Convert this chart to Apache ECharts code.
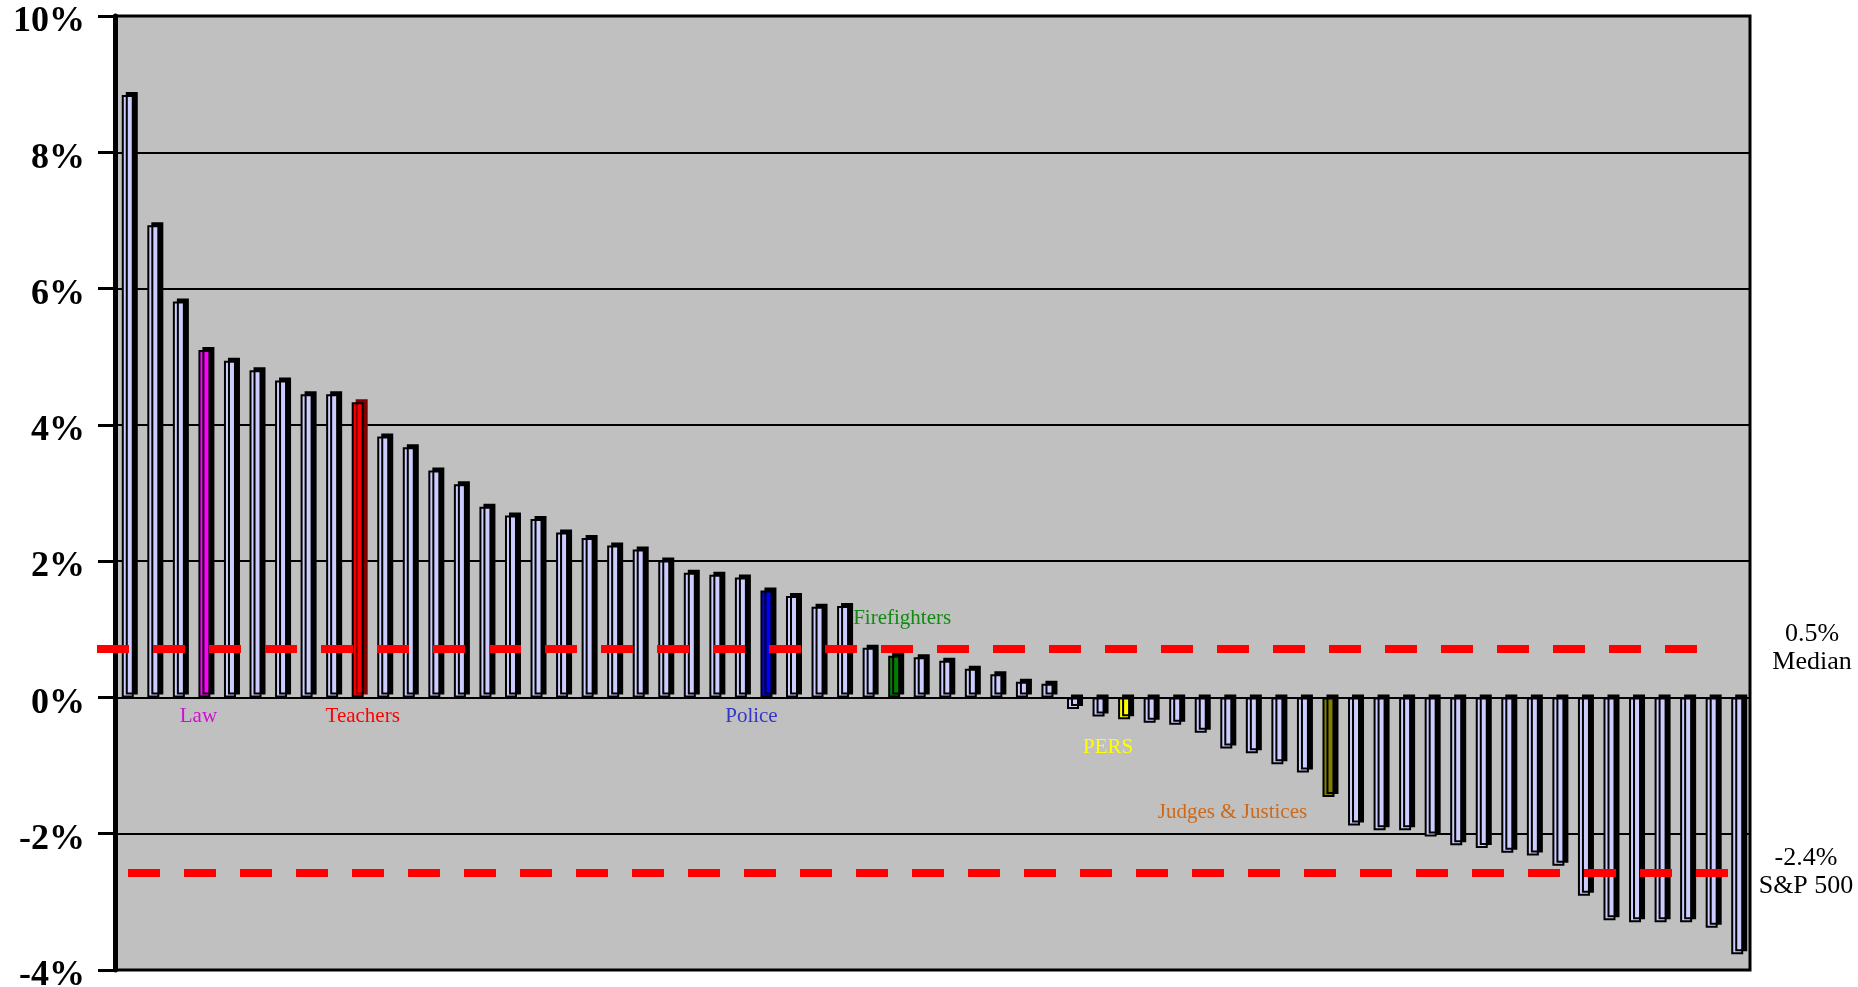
<!DOCTYPE html>
<html>
<head>
<meta charset="utf-8">
<script src="https://cdn.jsdelivr.net/npm/echarts@6/dist/echarts.min.js"></script>
<style>
html,body{margin:0;padding:0;background:#ffffff;}
#chart{width:1858px;height:987px;}
</style>
</head>
<body>
<div id="chart"></div>
<script>
// ---- data ----
const categories = [
  'Plan 1','Plan 2','Plan 3','Law','Plan 5','Plan 6','Plan 7','Plan 8','Plan 9','Teachers',
  'Plan 11','Plan 12','Plan 13','Plan 14','Plan 15','Plan 16','Plan 17','Plan 18','Plan 19','Plan 20',
  'Plan 21','Plan 22','Plan 23','Plan 24','Plan 25','Police','Plan 27','Plan 28','Plan 29','Plan 30',
  'Firefighters','Plan 32','Plan 33','Plan 34','Plan 35','Plan 36','Plan 37','Plan 38','Plan 39','PERS',
  'Plan 41','Plan 42','Plan 43','Plan 44','Plan 45','Plan 46','Plan 47','Judges & Justices','Plan 49','Plan 50',
  'Plan 51','Plan 52','Plan 53','Plan 54','Plan 55','Plan 56','Plan 57','Plan 58','Plan 59','Plan 60',
  'Plan 61','Plan 62','Plan 63','Plan 64'
];
const values = [
  8.84, 6.93, 5.81, 5.10, 4.94, 4.80, 4.65, 4.45, 4.45, 4.33,
  3.83, 3.67, 3.33, 3.13, 2.80, 2.67, 2.62, 2.42, 2.34, 2.23,
  2.17, 2.01, 1.83, 1.80, 1.76, 1.57, 1.49, 1.33, 1.34, 0.73,
  0.61, 0.59, 0.54, 0.42, 0.34, 0.23, 0.20, -0.17, -0.28, -0.32,
  -0.37, -0.40, -0.52, -0.75, -0.82, -0.98, -1.10, -1.46, -1.88, -1.95,
  -1.95, -2.04, -2.17, -2.21, -2.28, -2.32, -2.47, -2.91, -3.27, -3.30,
  -3.30, -3.30, -3.38, -3.77
];
const yTickValues = [-4, -2, 0, 2, 4, 6, 8, 10];
const refLineValues = [0.72, -2.57];
const refLineLabels = ['0.5%\nMedian', '-2.4%\nS&P 500'];
const highlightNames = ['Law', 'Teachers', 'Police', 'Firefighters', 'PERS', 'Judges & Justices'];

// ---- styles ----
const highlightBarColors = ['#FF00FF', '#FF0000', '#0000FF', '#008000', '#FFFF00', '#808000'];
const highlightSideColors = ['#000000', '#800000', '#000000', '#000000', '#000000', '#000000'];
const highlightTextColors = ['#D010D0', '#FF0000', '#3535C8', '#108A10', '#FFFF00', '#CC6A1A'];
const highlightLabelPlacement = [
  {position: 'bottom', distance: 9, offset: [-6, 0]},
  {position: 'bottom', distance: 9, offset: [5, 0]},
  {position: 'bottom', distance: 9, offset: [-15, 0]},
  {position: 'top', distance: 27, offset: [8, 0]},
  {position: 'bottom', distance: 18, offset: [-16, 0]},
  {position: 'bottom', distance: 5, offset: [-96, 0]}
];
const refLineX = [[97, 1697], [128, 1728]];
const refLabelDistance = [115, 78];
const refLabelPad = [[0, 0, 40, 0], [0, 0, 8, 0]];
const SERIF = '"Liberation Serif", "Times New Roman", serif';

const barData = values.map(function (v, i) {
  const h = highlightNames.indexOf(categories[i]);
  if (h < 0) return v;
  const p = highlightLabelPlacement[h];
  return {
    value: v,
    itemStyle: {color: highlightBarColors[h], shadowColor: highlightSideColors[h]},
    label: {
      show: true,
      formatter: categories[i],
      position: p.position,
      distance: p.distance,
      offset: p.offset,
      color: highlightTextColors[h],
      fontFamily: SERIF,
      fontSize: 21
    }
  };
});

const markLineData = refLineValues.map(function (v, k) {
  return [
    {
      yAxis: v,
      x: refLineX[k][0],
      label: {
        show: true,
        position: 'end',
        formatter: refLineLabels[k],
        distance: refLabelDistance[k],
        align: 'center',
        color: '#000',
        fontFamily: SERIF,
        fontSize: 26,
        lineHeight: 28,
        padding: refLabelPad[k]
      }
    },
    {yAxis: v, x: refLineX[k][1]}
  ];
});

const chart = echarts.init(document.getElementById('chart'), null, {renderer: 'canvas'});
chart.setOption({
  animation: false,
  backgroundColor: '#ffffff',
  grid: {
    left: 115, right: 108, top: 16, bottom: 17,
    outerBoundsMode: 'none',
    containLabel: false,
    show: true, backgroundColor: '#C0C0C0', borderColor: '#000', borderWidth: 3
  },
  xAxis: {
    type: 'category',
    data: categories,
    axisLine: {onZero: true, lineStyle: {color: '#000', width: 2}},
    axisTick: {show: false},
    axisLabel: {show: false},
    splitLine: {show: false}
  },
  yAxis: {
    type: 'value',
    min: yTickValues[0],
    max: yTickValues[yTickValues.length - 1],
    interval: yTickValues[1] - yTickValues[0],
    axisLine: {show: true, lineStyle: {color: '#000', width: 5}},
    axisTick: {show: true, length: 17, lineStyle: {color: '#000', width: 3}},
    axisLabel: {
      formatter: function (val) { return '{t|' + val + '%}'; },
      margin: 30,
      rich: {
        t: {
          color: '#000',
          fontFamily: SERIF,
          fontWeight: 'bold',
          fontSize: 36,
          lineHeight: 40,
          padding: [12, 0, 0, 0]
        }
      }
    },
    splitLine: {show: true, lineStyle: {color: '#000', width: 2}}
  },
  series: [{
    type: 'bar',
    data: barData,
    barWidth: 12,
    silent: true,
    itemStyle: {
      color: '#CCCCFF',
      borderColor: '#000',
      borderWidth: 2,
      shadowColor: '#000',
      shadowBlur: 0,
      shadowOffsetX: 4,
      shadowOffsetY: -3
    },
    markLine: {
      silent: true,
      symbol: 'none',
      animation: false,
      lineStyle: {color: '#FF0000', width: 8, type: [32, 24], cap: 'butt'},
      data: markLineData
    }
  }]
});
</script>
</body>
</html>
